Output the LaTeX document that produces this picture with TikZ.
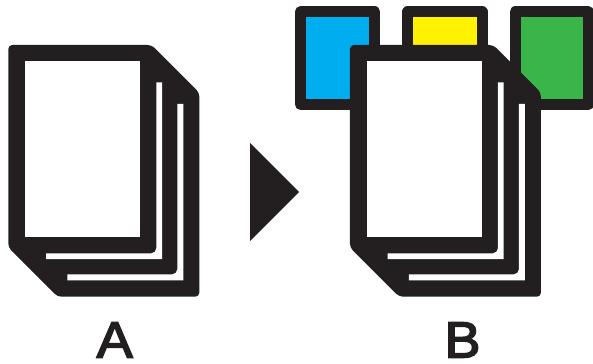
\documentclass[tikz,border=0pt]{standalone}
\usepackage{fontspec}
\setmainfont{Liberation Sans}
\newfontfamily\lblfont[FakeBold=3]{Liberation Sans}
\definecolor{inkblack}{HTML}{231F20}
\definecolor{tabblue}{HTML}{00AEEF}
\definecolor{tabyellow}{HTML}{FFF200}
\definecolor{tabgreen}{HTML}{39B54A}
\begin{document}
\begin{tikzpicture}[
    x=0.2mm, y=-0.2mm,
    tabbox/.style={draw=inkblack, line width=2.2mm, line join=round},
    sheetbody/.style={fill=inkblack, rounded corners=0.8mm},
    sheetgap/.style={fill=white},
    stacklbl/.style={font=\lblfont\fontsize{29}{30}\selectfont, text=inkblack, anchor=base,
                     inner sep=0pt, xscale=1.06, transform shape}
  ]
    \useasboundingbox (0,0) rectangle (593,363);

    % --- Tabs behind stack B ---
    \draw[tabbox, fill=tabblue] (300.4,12) rectangle (374.7,104.5);
    \draw[tabbox, fill=tabyellow] (407.7,12) rectangle (482,104.5);
    \draw[tabbox, fill=tabgreen] (515.2,12) rectangle (588.5,104.5);

    % --- Paper stacks A and B ---
    \foreach \xoff in {0,341.6} {
      \begin{scope}[xshift=\xoff*0.2mm]
        \fill[sheetbody] (8.3,45) -- (151.7,45) -- (199.3,92.6) -- (199.3,296.7)
          -- (57.5,296.7) -- (8.3,247.5) -- cycle;
        % Top sheet
        \fill[sheetgap] (25,61.3) rectangle (140.3,237.3);
        % Gaps between sheets
        \fill[sheetgap] (156.3,82.3) -- (162,82.3) -- (162,259) -- (46,259) -- (46,253.3)
          [rounded corners=1mm] -- (156.3,253.3) [sharp corners] -- cycle;
        \fill[sheetgap] (177.3,104) -- (183.3,104) -- (183.3,280.3) -- (67.3,280.3) -- (67.3,274.3)
          [rounded corners=1mm] -- (177.3,274.3) [sharp corners] -- cycle;
      \end{scope}
    }

    % --- Arrow from A to B ---
    \fill[inkblack] (250,143) -- (299,192) -- (250,241) -- cycle;

    % Labels
    \node[stacklbl] (lblA) at (114.7,357.5) {A};
    \node[stacklbl] (lblB) at (462.5,357.5) {B};
  \end{tikzpicture}
\end{document}
